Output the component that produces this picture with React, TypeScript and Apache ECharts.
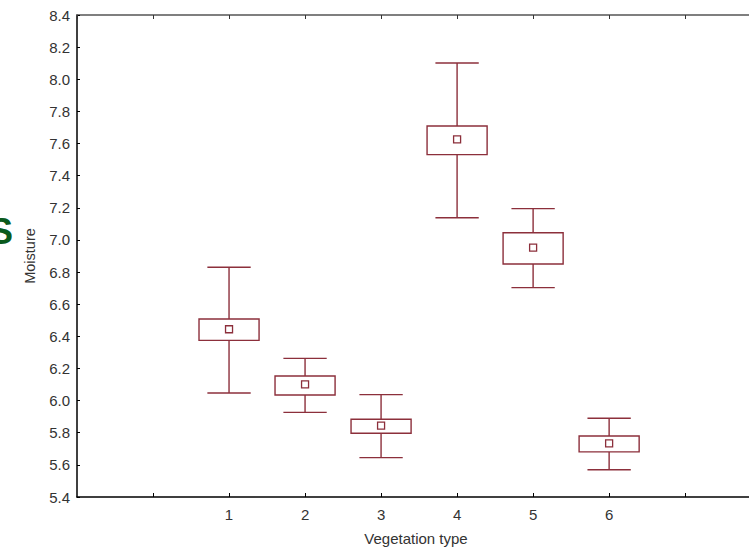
import React, { useEffect, useRef } from "react";
import * as echarts from "echarts";

const categories = [1, 2, 3, 4, 5, 6];
const whiskerHigh = [6.83, 6.263, 6.037, 8.101, 7.195, 5.89];
const boxHigh = [6.508, 6.153, 5.884, 7.709, 7.045, 5.78];
const means = [6.444, 6.101, 5.844, 7.626, 6.952, 5.734];
const boxLow = [6.375, 6.035, 5.797, 7.531, 6.85, 5.681];
const whiskerLow = [6.047, 5.927, 5.645, 7.138, 6.703, 5.57];

const COLOR = "#8c2f3b";

export default function App() {
  const ref = useRef<HTMLDivElement>(null);
  useEffect(() => {
    if (!ref.current) return;
    const chart = echarts.init(ref.current, null, { renderer: "svg" });
    const data = categories.map((c, i) => [c, whiskerHigh[i], boxHigh[i], means[i], boxLow[i], whiskerLow[i]]);
    const textStyle = { color: "#333", fontFamily: "Liberation Sans, Arial, sans-serif" };
    chart.setOption({
      animation: false,
      backgroundColor: "#fff",
      grid: { left: 77, right: 0, top: 15, bottom: 52 },
      xAxis: [
        {
          type: "value",
          min: -1,
          max: 7.84,
          interval: 1,
          position: "bottom",
          axisLine: { show: true, onZero: false, lineStyle: { color: "#000", width: 1.5 } },
          axisTick: { show: true, inside: true, length: 4, lineStyle: { color: "#000" } },
          axisLabel: {
            ...textStyle,
            fontSize: 15,
            margin: 10,
            formatter: (v: number) => (categories.indexOf(v) >= 0 ? String(v) : ""),
            showMinLabel: false,
            showMaxLabel: false,
          },
          splitLine: { show: false },
        },
        {
          type: "value",
          min: -1,
          max: 7.84,
          interval: 1,
          position: "top",
          axisLine: { show: true, onZero: false, lineStyle: { color: "#555", width: 1.5 } },
          axisTick: { show: true, inside: true, length: 4, lineStyle: { color: "#333" } },
          axisLabel: { show: false },
          splitLine: { show: false },
        },
      ],
      yAxis: {
        type: "value",
        min: 5.4,
        max: 8.4,
        interval: 0.2,
        axisLine: { show: true, onZero: false, lineStyle: { color: "#000", width: 1.5 } },
        axisTick: { show: true, inside: true, length: 3, lineStyle: { color: "#000" } },
        axisLabel: {
          ...textStyle,
          fontSize: 15,
          margin: 7,
          formatter: (v: number) => v.toFixed(1),
        },
        splitLine: { show: false },
      },
      graphic: [
        {
          type: "text",
          x: 30,
          y: 256,
          rotation: Math.PI / 2,
          style: { text: "Moisture", fill: "#333", font: "14.5px 'Liberation Sans', Arial, sans-serif", align: "center", verticalAlign: "middle" },
        },
        {
          type: "text",
          x: 416,
          y: 538,
          style: { text: "Vegetation type", fill: "#333", font: "15px 'Liberation Sans', Arial, sans-serif", align: "center", verticalAlign: "middle" },
        },
        {
          type: "text",
          x: 13,
          y: 231,
          style: { text: "S", fill: "#0b5a1c", font: "bold 36px 'Liberation Sans', Arial, sans-serif", align: "right", verticalAlign: "middle" },
        },
      ],
      series: [
        {
          type: "custom",
          xAxisIndex: 0,
          data,
          renderItem: (params: any, api: any) => {
            const x = api.value(0);
            const wh = api.coord([x, api.value(1)]);
            const bh = api.coord([x, api.value(2)]);
            const m = api.coord([x, api.value(3)]);
            const bl = api.coord([x, api.value(4)]);
            const wl = api.coord([x, api.value(5)]);
            const boxW = api.size([0.79, 0])[0];
            const capW = api.size([0.57, 0])[0];
            const cx = wh[0];
            const ls = { stroke: COLOR, lineWidth: 1.4, fill: "none" };
            return {
              type: "group",
              children: [
                { type: "line", shape: { x1: cx, y1: wh[1], x2: cx, y2: bh[1] }, style: ls },
                { type: "line", shape: { x1: cx, y1: bl[1], x2: cx, y2: wl[1] }, style: ls },
                { type: "line", shape: { x1: cx - capW / 2, y1: wh[1], x2: cx + capW / 2, y2: wh[1] }, style: ls },
                { type: "line", shape: { x1: cx - capW / 2, y1: wl[1], x2: cx + capW / 2, y2: wl[1] }, style: ls },
                { type: "rect", shape: { x: cx - boxW / 2, y: bh[1], width: boxW, height: bl[1] - bh[1] }, style: { stroke: COLOR, lineWidth: 1.4, fill: "#fff" } },
                { type: "rect", shape: { x: m[0] - 3.5, y: m[1] - 3.5, width: 7, height: 7 }, style: { stroke: COLOR, lineWidth: 1.3, fill: "#fff" } },
              ],
            };
          },
        },
      ],
    });
    return () => chart.dispose();
  }, []);
  return <div ref={ref} style={{ width: 749, height: 549, position: "absolute", left: 0, top: 0 }} />;
}
